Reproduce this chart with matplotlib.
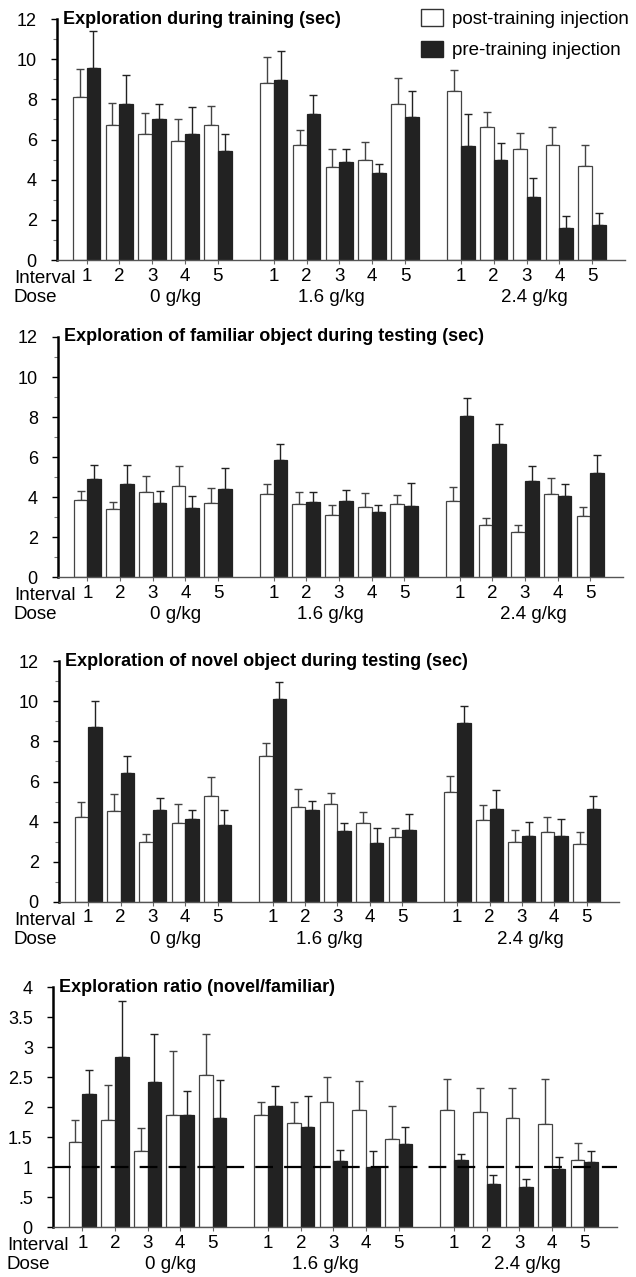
import numpy as np
import matplotlib
matplotlib.use('Agg')
import matplotlib.pyplot as plt
from matplotlib.patches import Patch

plt.rcParams['font.family'] = ['Liberation Sans', 'DejaVu Sans']

intervals = ['1', '2', '3', '4', '5']
doses = ['0 g/kg', '1.6 g/kg', '2.4 g/kg']

# training exploration (sec), 3 doses x 5 intervals
train_post = [8.13, 6.72, 6.25, 5.92, 6.70, 8.80, 5.75, 4.62, 4.98, 7.75, 8.42, 6.62, 5.55, 5.73, 4.67]
train_post_sem = [1.37, 1.08, 1.05, 1.11, 0.97, 1.33, 0.70, 0.93, 0.89, 1.33, 1.05, 0.75, 0.75, 0.87, 1.05]
train_pre = [9.58, 7.75, 7.00, 6.25, 5.45, 8.97, 7.25, 4.88, 4.32, 7.10, 5.67, 4.97, 3.13, 1.58, 1.75]
train_pre_sem = [1.84, 1.45, 0.78, 1.38, 0.80, 1.45, 0.98, 0.67, 0.48, 1.32, 1.61, 0.86, 0.95, 0.59, 0.58]

# familiar object during testing
fam_post = [3.84, 3.38, 4.24, 4.57, 3.68, 4.14, 3.66, 3.08, 3.49, 3.64, 3.79, 2.58, 2.25, 4.16, 3.03]
fam_post_sem = [0.48, 0.39, 0.81, 0.96, 0.79, 0.50, 0.58, 0.50, 0.73, 0.48, 0.73, 0.38, 0.33, 0.81, 0.48]
fam_pre = [4.90, 4.64, 3.68, 3.43, 4.39, 5.83, 3.74, 3.81, 3.25, 3.56, 8.06, 6.67, 4.82, 4.07, 5.20]
fam_pre_sem = [0.71, 0.97, 0.64, 0.64, 1.04, 0.81, 0.50, 0.56, 0.33, 1.14, 0.88, 0.98, 0.73, 0.60, 0.89]

# novel object during testing
nov_post = [4.22, 4.52, 2.98, 3.94, 5.28, 7.27, 4.75, 4.87, 3.91, 3.25, 5.50, 4.07, 3.01, 3.49, 2.91]
nov_post_sem = [0.75, 0.84, 0.40, 0.94, 0.95, 0.63, 0.88, 0.56, 0.56, 0.44, 0.76, 0.76, 0.57, 0.73, 0.57]
nov_pre = [8.72, 6.42, 4.60, 4.12, 3.84, 10.12, 4.57, 3.53, 2.95, 3.59, 8.92, 4.64, 3.29, 3.29, 4.62]
nov_pre_sem = [1.31, 0.85, 0.58, 0.47, 0.75, 0.82, 0.46, 0.38, 0.74, 0.78, 0.86, 0.92, 0.68, 0.83, 0.66]

# exploration ratio novel/familiar
ratio_post = [1.41, 1.78, 1.27, 1.87, 2.54, 1.87, 1.74, 2.08, 1.95, 1.47, 1.95, 1.92, 1.82, 1.72, 1.11]
ratio_post_sem = [0.37, 0.58, 0.38, 1.07, 0.68, 0.21, 0.34, 0.42, 0.49, 0.55, 0.52, 0.39, 0.49, 0.74, 0.29]
ratio_pre = [2.21, 2.84, 2.42, 1.87, 1.81, 2.02, 1.67, 1.10, 1.00, 1.39, 1.12, 0.71, 0.67, 0.96, 1.08]
ratio_pre_sem = [0.41, 0.93, 0.80, 0.39, 0.64, 0.33, 0.51, 0.18, 0.26, 0.28, 0.10, 0.15, 0.13, 0.21, 0.19]
chance_ratio = 1.0

W, H = 636, 1277
fig = plt.figure(figsize=(W / 100, H / 100), dpi=100)

# panel boxes in pixels: left, y of zero, right, y of top
boxes = [(57, 260, 625, 19), (58, 577, 623, 337), (59, 902, 619, 661), (53, 1227, 617, 987)]
panels = [
    ('Exploration during training (sec)', train_post, train_post_sem, train_pre, train_pre_sem),
    ('Exploration of familiar object during testing (sec)', fam_post, fam_post_sem, fam_pre, fam_pre_sem),
    ('Exploration of novel object during testing (sec)', nov_post, nov_post_sem, nov_pre, nov_pre_sem),
    ('Exploration ratio (novel/familiar)', ratio_post, ratio_post_sem, ratio_pre, ratio_pre_sem),
]

gap = 5.7
pos = np.concatenate([g * gap + np.arange(len(intervals)) for g in range(len(doses))])
dose_x = [2.7, 7.45, 13.65]
w = 0.42
dark = '#222222'

for k, (title, post, post_sem, pre, pre_sem) in enumerate(panels):
    l, b, r, t = boxes[k]
    ax = fig.add_axes([l / W, 1 - b / H, (r - l) / W, (b - t) / H])
    ax.bar(pos - w / 2, post, w, color='white', edgecolor='#444444', linewidth=0.9, zorder=2)
    ax.bar(pos + w / 2, pre, w, color=dark, edgecolor=dark, linewidth=0.9, zorder=2)
    ax.errorbar(pos - w / 2, post, yerr=[np.zeros(len(post)), post_sem], fmt='none',
                ecolor='#444444', elinewidth=1, capsize=2.8, capthick=1, zorder=1.5)
    ax.errorbar(pos + w / 2, pre, yerr=[np.zeros(len(pre)), pre_sem], fmt='none',
                ecolor='#222222', elinewidth=1, capsize=2.8, capthick=1, zorder=1.5)

    ax.set_xlim(-0.9, pos[-1] + 1.0)
    if k < 3:
        ax.set_ylim(0, 12)
        ax.set_yticks(np.arange(0, 13, 2))
        ax.set_yticks(np.arange(1, 12, 2), minor=True)
    else:
        ax.set_ylim(0, 4)
        ticks = np.arange(0, 4.01, 0.5)
        ax.set_yticks(ticks)
        ax.set_yticklabels(['0', '.5', '1', '1.5', '2', '2.5', '3', '3.5', '4'])
        ax.axhline(chance_ratio, color='black', lw=1.6, ls=(0, (8, 5)), zorder=3)

    ax.set_xticks(pos)
    ax.set_xticklabels(intervals * len(doses))
    ax.tick_params(axis='y', which='major', direction='out', length=4, width=1,
                   pad=10.5, labelsize=13)
    ax.tick_params(axis='y', which='minor', direction='out', length=3, width=0.8, color='#777777')
    ax.tick_params(axis='x', direction='out', length=3, width=0.8, color='#666666',
                   pad=2.4, labelsize=13.5)
    for s in ['top', 'right']:
        ax.spines[s].set_visible(False)
    ax.spines['left'].set_linewidth(1.8)
    ax.spines['bottom'].set_linewidth(1)
    ax.spines['bottom'].set_color('#555555')

    ax.text(0.011, 1.0, title, transform=ax.transAxes, fontsize=13, fontweight='bold',
            ha='left', va='center')

    lx = (7 if k == 3 else 14) / W
    ax.annotate('Interval', xy=(lx, 0), xycoords=('figure fraction', 'axes fraction'),
                xytext=(0, -16.6), textcoords='offset points', ha='left', va='baseline',
                fontsize=13.5)
    ax.annotate('Dose', xy=(lx, 0), xycoords=('figure fraction', 'axes fraction'),
                xytext=(0, -30.2), textcoords='offset points', ha='left', va='baseline',
                fontsize=13.5)
    for dx, dl in zip(dose_x, doses):
        ax.annotate(dl, xy=(dx, 0), xycoords=('data', 'axes fraction'),
                    xytext=(0, -30.2), textcoords='offset points', ha='center', va='baseline',
                    fontsize=13.5)

handles = [Patch(facecolor='white', edgecolor='#333333', linewidth=1),
           Patch(facecolor=dark, edgecolor=dark)]
fig.legend(handles, ['post-training injection', 'pre-training injection'],
           loc='upper left', bbox_to_anchor=(421 / W, 1 - 9 / H), frameon=False,
           fontsize=13.5, handlelength=1.15, handleheight=1.0, labelspacing=0.68,
           handletextpad=0.5, borderpad=0, borderaxespad=0)

fig.savefig('out.png', dpi=100)
